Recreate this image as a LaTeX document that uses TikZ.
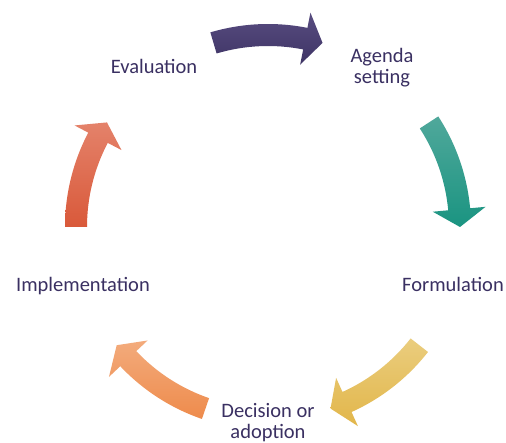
\documentclass[tikz,border=0pt]{standalone}
\usepackage{fontspec}
\setmainfont{Carlito}
\usepackage{tikz}
\definecolor{labeltext}{RGB}{58,48,98}
\definecolor{purpletop}{RGB}{88,76,128}
\definecolor{purplebot}{RGB}{62,52,101}
\definecolor{tealtop}{RGB}{80,168,155}
\definecolor{tealbot}{RGB}{26,148,129}
\definecolor{yellowtop}{RGB}{234,205,126}
\definecolor{yellowbot}{RGB}{226,182,74}
\definecolor{orangetop}{RGB}{243,171,124}
\definecolor{orangebot}{RGB}{238,139,76}
\definecolor{redtop}{RGB}{228,130,106}
\definecolor{redbot}{RGB}{217,89,58}
\tikzstyle{stage} = [text=labeltext, align=center, inner sep=0pt, anchor=base,
  font=\fontsize{20.5}{21}\selectfont]
% block arrow on the cycle: #1 middle angle, #2 top colour, #3 bottom colour
\newcommand{\cyclearrow}[3]{%
  \shade[top color=#2, bottom color=#3]
    ({#1+16.5}:203) arc[start angle={#1+16.5}, end angle={#1-11.2}, radius=203]
    -- ({#1-11.2}:218.5) -- ({#1-16.5}:192) -- ({#1-11.2}:165.5)
    -- ({#1-11.2}:181) arc[start angle={#1-11.2}, end angle={#1+16.5}, radius=181]
    -- cycle;}

\begin{document}
\begin{tikzpicture}[x=1pt, y=1pt]
  \fill[white] (0,0) rectangle (506,442);
  \useasboundingbox (0,0) rectangle (506,442);
  \coordinate (o) at (268,215);
  \node (a) at (154,368) [stage] {Evaluation};
  \node (b) at (382,358) [stage] {Agenda\\setting};
  \node (c) at (453,150) [stage] {Formulation};
  \node (d) at (268,4) [stage] {Decision or\\adoption};
  \node (e) at (83,150) [stage] {Implementation};
  \begin{scope}[shift={(o)}]
    \cyclearrow{90}{purpletop}{purplebot}
    \cyclearrow{16.5}{tealtop}{tealbot}
    \cyclearrow{-54.5}{yellowtop}{yellowbot}
    \cyclearrow{-125.5}{orangetop}{orangebot}
    \cyclearrow{163.5}{redtop}{redbot}
  \end{scope}
\end{tikzpicture}
\end{document}
